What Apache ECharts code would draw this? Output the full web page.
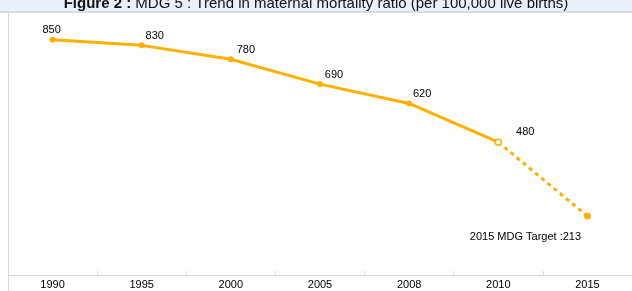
<!DOCTYPE html>
<html><head><meta charset="utf-8">
<script src="https://cdn.jsdelivr.net/npm/echarts@6/dist/echarts.min.js"></script>
<style>html,body{margin:0;padding:0;background:#fff}#c{width:632px;height:291px}</style>
</head><body><div id="c"></div>
<script>
const years = ['1990','1995','2000','2005','2008','2010','2015'];
const actual = [850, 830, 780, 690, 620, 480, null];
const target = [null, null, null, null, null, 480, 213];
const targetLabel = '2015 MDG Target :';

const color = '#FFB000';
const font = '"Liberation Sans", Arial, sans-serif';
const offsets = [[-1,0],[13,0],[15,0],[14,0],[13,0],[27,0]];

const chart = echarts.init(document.getElementById('c'));
chart.setOption({
  animation: false,
  graphic: [
    {type:'rect', shape:{x:0,y:0,width:632,height:12}, style:{fill:'#E9F0FA'}, z:-10},
    {type:'rect', shape:{x:0,y:11,width:632,height:2}, style:{fill:'#DCDCDC'}, z:-9},
    {type:'line', shape:{x1:8.5,y1:13,x2:8.5,y2:291}, style:{stroke:'#D9D9D9', lineWidth:1}, z:-9}
  ],
  title: {
    text: '{b|Figure 2 :} MDG 5 : Trend in maternal mortality ratio (per 100,000 live births)',
    left: 'center', top: -9,
    textStyle: {
      fontFamily: font, fontSize: 15, fontWeight: 'normal', color: '#111',
      rich: {b: {fontFamily: font, fontSize: 15, fontWeight: 'bold', color: '#111'}}
    }
  },
  grid: {left: 8, right: -4, top: 26, bottom: 16},
  xAxis: {
    type: 'category', data: years, boundaryGap: true,
    axisLine: {lineStyle: {color: '#D9D9D9'}},
    axisTick: {show: true, length: 4, inside: true, lineStyle: {color: '#D9D9D9'}},
    axisLabel: {fontFamily: font, fontSize: 11, color: '#000', margin: 4}
  },
  yAxis: {type: 'value', min: 0, max: 900, show: false, splitLine: {show: false}},
  series: [
    {
      type: 'line', data: actual.map((v,i) => v == null ? null : {
        value: v,
        itemStyle: i === 5 ? {color: '#fff', borderColor: color, borderWidth: 1.5} : undefined,
        label: {offset: offsets[i]}
      }),
      symbol: 'circle', symbolSize: 6, showAllSymbol: true,
      lineStyle: {color: color, width: 3}, itemStyle: {color: color},
      label: {show: true, position: 'top', distance: 1, fontFamily: font, fontSize: 11, color: '#000'},
      z: 3
    },
    {
      type: 'line', data: target.map((v,i) => v == null ? null : (i === 6 ? {
        value: v,
        label: {show: true, position: 'bottom', distance: 12, offset: [-62, 0],
          formatter: p => targetLabel + p.value, fontFamily: font, fontSize: 11, color: '#000'}
      } : {value: v, symbol: 'none'})),
      symbol: 'circle', symbolSize: 7, showAllSymbol: true,
      lineStyle: {color: color, width: 3, type: [4, 4]}, itemStyle: {color: color},
      z: 2
    }
  ]
});
</script></body></html>
